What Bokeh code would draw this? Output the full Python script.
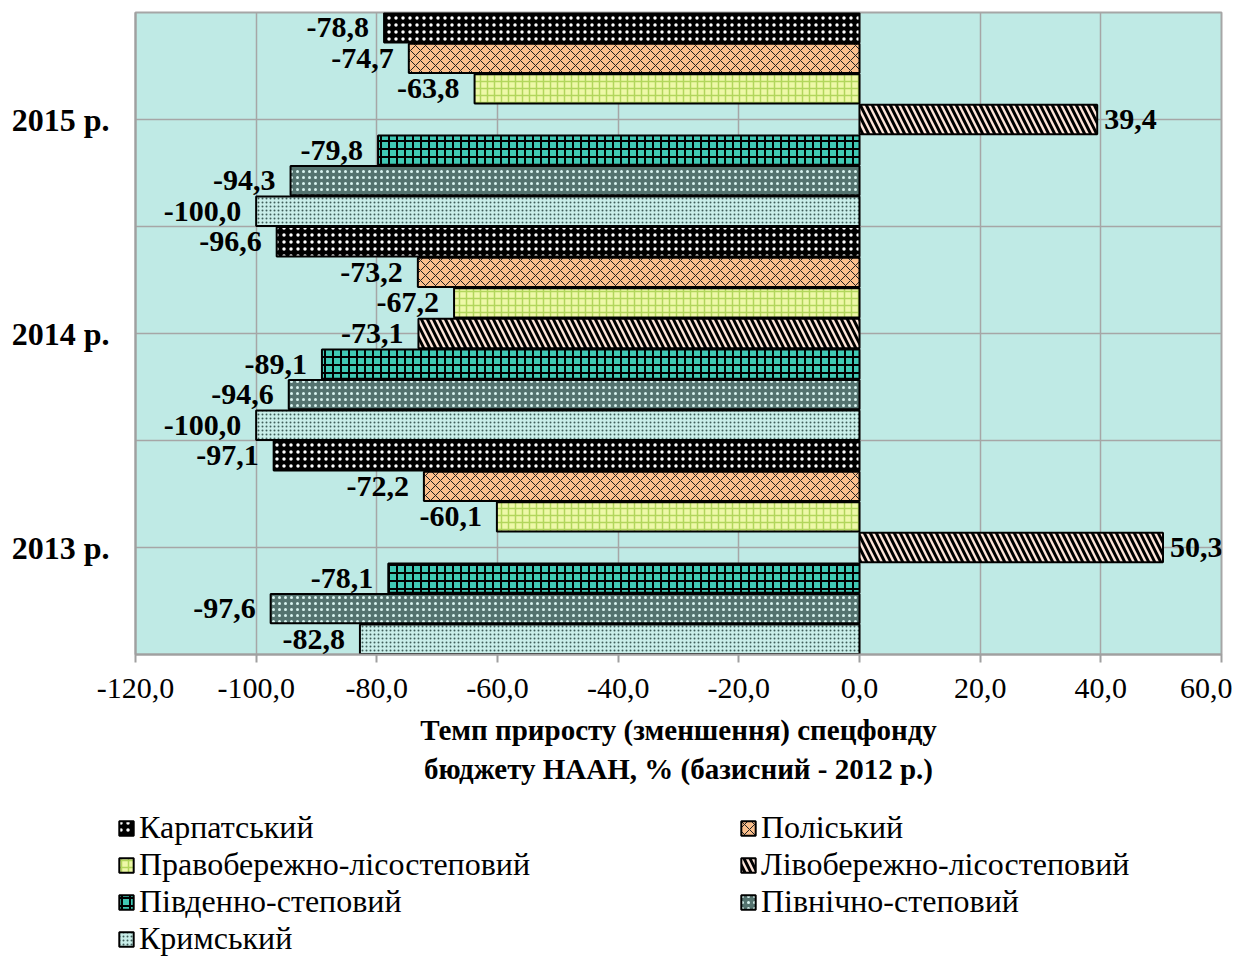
from bokeh.plotting import figure
from bokeh.layouts import column
from bokeh.models import ColumnDataSource, FixedTicker, Legend, LegendItem, Range1d, LabelSet
from bokeh.embed import file_html
from bokeh.resources import INLINE

# ---- data ----
years = ["2013 р.", "2014 р.", "2015 р."]
series_names = ["Карпатський", "Поліський", "Правобережно-лісостеповий",
                "Лівобережно-лісостеповий", "Південно-степовий",
                "Північно-степовий", "Кримський"]
karpatskyi = [-97.1, -96.6, -78.8]
poliskyi = [-72.2, -73.2, -74.7]
pravoberezhno = [-60.1, -67.2, -63.8]
livoberezhno = [50.3, -73.1, 39.4]
pivdenno = [-78.1, -89.1, -79.8]
pivnichno = [-97.6, -94.6, -94.3]
krymskyi = [-82.8, -100.0, -100.0]
x_ticks = [-120, -100, -80, -60, -40, -20, 0, 20, 40, 60]
x_title = "Темп приросту (зменшення) спецфонду\nбюджету НААН, % (базисний - 2012 р.)"

all_values = [karpatskyi, poliskyi, pravoberezhno, livoberezhno,
              pivdenno, pivnichno, krymskyi]

# ---- styles ----
styles = [
    dict(fill_color="#000000", hatch_pattern="dot", hatch_color="#FFFFFF", hatch_scale=7, hatch_weight=1.2),
    dict(fill_color="#FBBF8C", hatch_pattern="diagonal_cross", hatch_color="#202020", hatch_scale=10, hatch_weight=1),
    dict(fill_color="#EEF8A8", hatch_pattern="cross", hatch_color="#B2D65C", hatch_scale=7, hatch_weight=1.5),
    dict(fill_color="#FDE4D8", hatch_pattern="left_diagonal_line", hatch_color="#000000", hatch_scale=12, hatch_weight=3),
    dict(fill_color="#40C8B4", hatch_pattern="cross", hatch_color="#000000", hatch_scale=8, hatch_weight=2),
    dict(fill_color="#54736F", hatch_pattern="dot", hatch_color="#D8F4F0", hatch_scale=6, hatch_weight=1.5),
    dict(fill_color="#C9EEE9", hatch_pattern="dot", hatch_color="#3E5E5A", hatch_scale=4, hatch_weight=1.2),
]

SERIF = "Liberation Serif"
n = len(series_names)
bar_h = 1.0 / n
W = 1232
H1 = 800
H2 = 157

p = figure(width=W, height=H1, output_backend="svg", toolbar_location=None,
           x_range=Range1d(-120, 60), y_range=Range1d(-0.5, 2.5),
           min_border_left=135, min_border_right=11, min_border_top=12,
           min_border_bottom=H1 - 654)
p.background_fill_color = "#BFEAE5"
p.border_fill_color = "white"
p.outline_line_color = "#A6A6A6"
p.outline_line_width = 2
p.frame_align = False

# legend figure (swatches only; its renderers are hidden)
p2 = figure(width=W, height=H2, output_backend="svg", toolbar_location=None,
            x_range=Range1d(-120, 60), y_range=Range1d(-0.5, 2.5),
            x_axis_type=None, y_axis_type=None,
            min_border_left=0, min_border_right=0, min_border_top=0,
            min_border_bottom=0)
p2.outline_line_color = None
p2.background_fill_color = "white"
p2.xgrid.visible = False
p2.ygrid.visible = False
p2.frame_align = False

items = []
neg = dict(x=[], y=[], t=[])
pos = dict(x=[], y=[], t=[])
for k, (name, vals, st) in enumerate(zip(series_names, all_values, styles)):
    ys = [i + (3 - k) * bar_h for i in range(len(years))]
    src = ColumnDataSource(dict(y=ys, right=vals))
    p.hbar(y="y", left=0, right="right", height=bar_h * 0.96, source=src,
           line_color="black", line_width=2, **st)
    r2 = p2.hbar(y="y", left=0, right="right", height=bar_h * 0.96, source=src,
                 line_color="black", line_width=2, visible=False, **st)
    items.append(LegendItem(label=name, renderers=[r2]))
    for yy, v in zip(ys, vals):
        d = neg if v < 0 else pos
        d["x"].append(v)
        d["y"].append(yy)
        d["t"].append(f"{v:.1f}".replace(".", ","))

lab_common = dict(x="x", y="y", text="t", text_baseline="middle",
                  text_font=SERIF, text_font_style="bold",
                  text_font_size="30px", text_color="black")
p.add_layout(LabelSet(source=ColumnDataSource(neg), text_align="right",
                      x_offset=-15, **lab_common))
p.add_layout(LabelSet(source=ColumnDataSource(pos), text_align="left",
                      x_offset=7, **lab_common))

# ---- axes ----
p.xaxis.ticker = FixedTicker(ticks=x_ticks)
p.xaxis.major_label_overrides = {t: f"{t:.1f}".replace(".", ",") for t in x_ticks}
p.xaxis.major_label_text_font = SERIF
p.xaxis.major_label_text_font_size = "30px"
p.xaxis.major_label_text_color = "black"
p.xaxis.major_label_standoff = 16
p.xaxis.axis_line_color = "#A0A0A0"
p.xaxis.axis_line_width = 2
p.xaxis.major_tick_line_color = "#A0A0A0"
p.xaxis.major_tick_line_width = 2
p.xaxis.major_tick_out = 8
p.xaxis.major_tick_in = 0
p.xaxis.minor_tick_line_color = None
p.xaxis.axis_label = x_title
p.xaxis.axis_label_text_font = SERIF
p.xaxis.axis_label_text_font_style = "bold"
p.xaxis.axis_label_text_font_size = "29px"
p.xaxis.axis_label_text_line_height = 1.24
p.xaxis.axis_label_text_color = "black"
p.xaxis.axis_label_standoff = 13

p.yaxis.ticker = FixedTicker(ticks=[0, 1, 2])
p.yaxis.major_label_overrides = {0: years[0], 1: years[1], 2: years[2]}
p.yaxis.major_label_text_font = SERIF
p.yaxis.major_label_text_font_style = "bold"
p.yaxis.major_label_text_font_size = "32px"
p.yaxis.major_label_text_color = "black"
p.yaxis.major_label_standoff = 20
p.yaxis.axis_line_color = "#A0A0A0"
p.yaxis.axis_line_width = 2
p.yaxis.major_tick_line_color = None
p.yaxis.minor_tick_line_color = None

p.xgrid.ticker = FixedTicker(ticks=x_ticks)
p.ygrid.ticker = FixedTicker(ticks=[-0.5, 0, 0.5, 1, 1.5, 2, 2.5])
p.xgrid.grid_line_color = "#A6A6A6"
p.ygrid.grid_line_color = "#A6A6A6"
p.xgrid.grid_line_width = 1.5
p.ygrid.grid_line_width = 1.5

# ---- legend ----
legend = Legend(items=items, orientation="horizontal", ncols=2,
                location=(117, 0), padding=0, margin=0, spacing=0,
                border_line_color=None, background_fill_alpha=0,
                inactive_fill_alpha=0,
                glyph_width=18, glyph_height=18, label_standoff=4,
                label_width=600, label_height=37,
                label_text_font=SERIF, label_text_font_size="32px",
                label_text_color="black")
p2.add_layout(legend, "center")

layout = column(p, p2, spacing=0)
open("out.html", "w").write(file_html(layout, INLINE))
